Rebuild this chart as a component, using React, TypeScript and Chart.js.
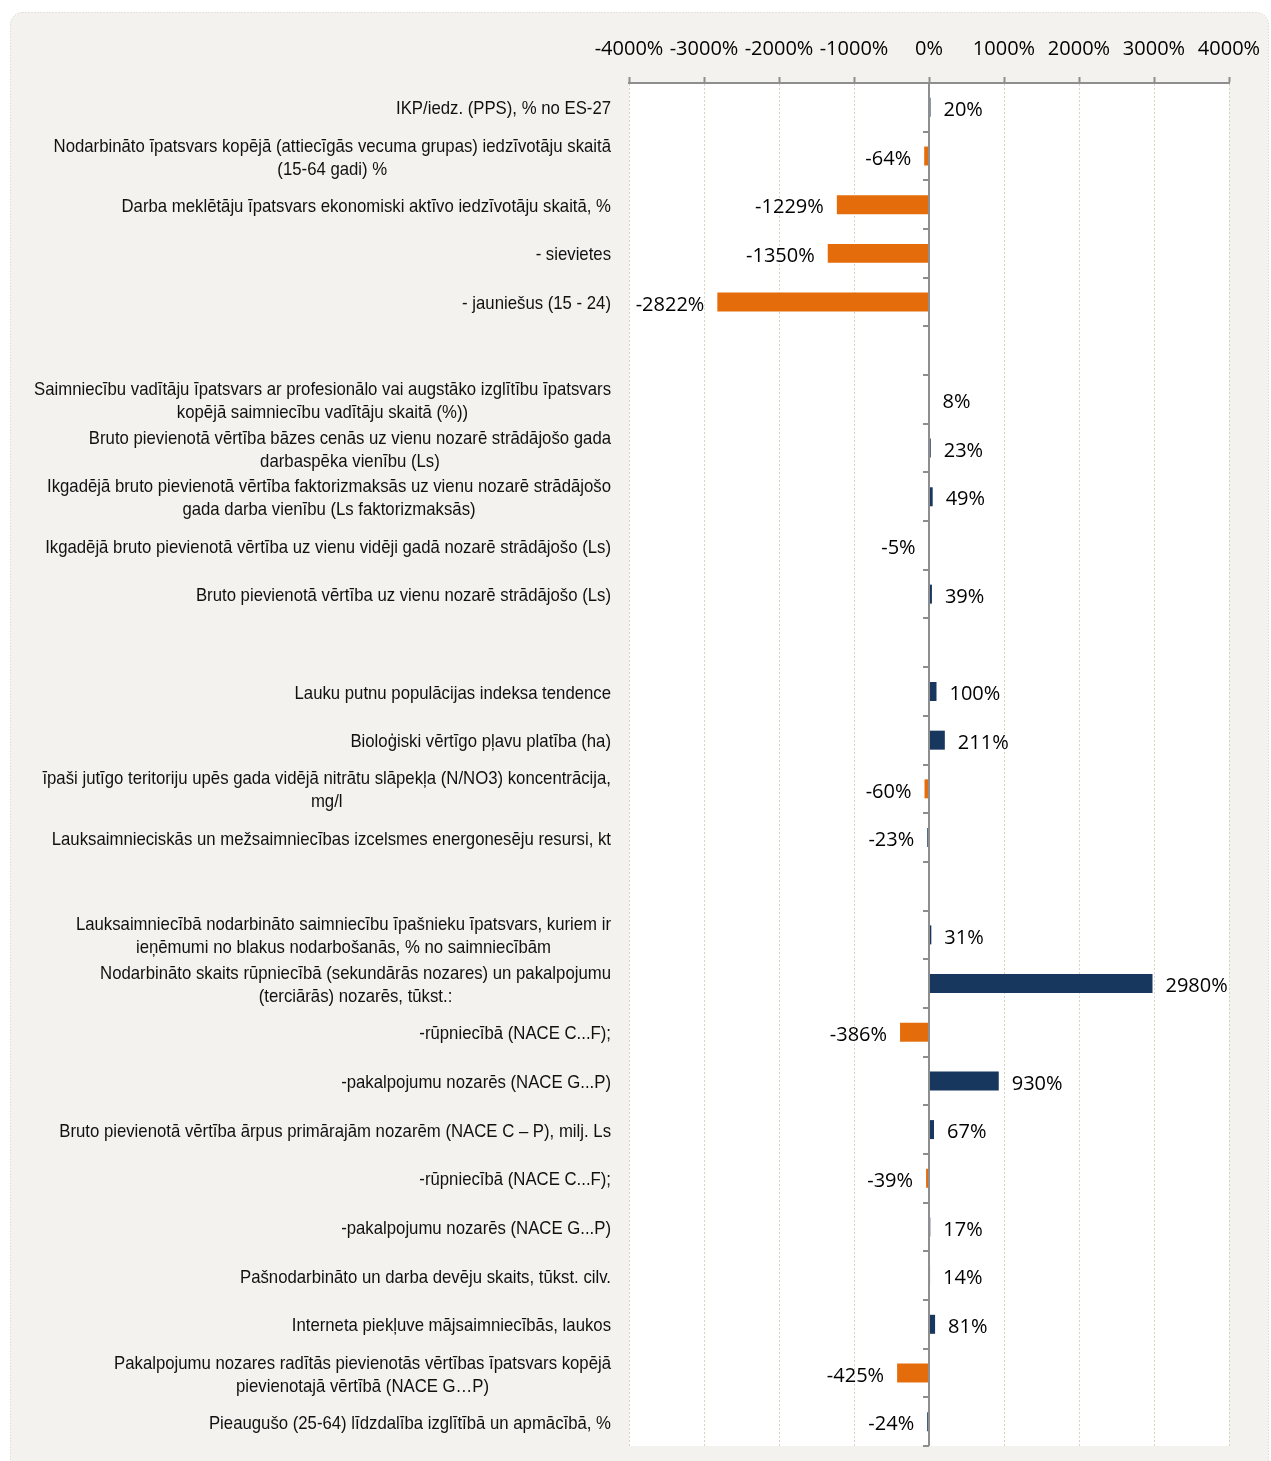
import React, { useEffect, useRef } from "react";
import { Chart, registerables } from "chart.js";

Chart.register(...registerables);

const categories: (string | string[])[] = [
  "IKP/iedz. (PPS), % no ES-27",
  ["Nodarbināto īpatsvars kopējā (attiecīgās vecuma grupas) iedzīvotāju skaitā", "(15-64 gadi) %"],
  "Darba meklētāju īpatsvars ekonomiski aktīvo iedzīvotāju skaitā, %",
  "- sievietes",
  "- jauniešus (15 - 24)",
  "",
  ["Saimniecību vadītāju īpatsvars ar profesionālo vai augstāko izglītību īpatsvars", "kopējā saimniecību vadītāju skaitā (%))"],
  ["Bruto pievienotā vērtība bāzes cenās uz vienu nozarē strādājošo gada", "darbaspēka vienību (Ls)"],
  ["Ikgadējā bruto pievienotā vērtība faktorizmaksās uz vienu nozarē strādājošo", "gada darba vienību (Ls faktorizmaksās)"],
  "Ikgadējā bruto pievienotā vērtība uz vienu vidēji gadā nozarē strādājošo (Ls)",
  "Bruto pievienotā vērtība uz vienu nozarē strādājošo (Ls)",
  "",
  "Lauku putnu populācijas indeksa tendence",
  "Bioloģiski vērtīgo pļavu platība (ha)",
  ["īpaši jutīgo teritoriju upēs gada vidējā nitrātu slāpekļa (N/NO3) koncentrācija,", "mg/l"],
  "Lauksaimnieciskās un mežsaimniecības izcelsmes energonesēju resursi, kt",
  "",
  ["Lauksaimniecībā nodarbināto saimniecību īpašnieku īpatsvars, kuriem ir", "ieņēmumi no blakus nodarbošanās, % no saimniecībām"],
  ["Nodarbināto skaits rūpniecībā (sekundārās nozares) un pakalpojumu", "(terciārās) nozarēs, tūkst.:"],
  "-rūpniecībā (NACE C...F);",
  "-pakalpojumu nozarēs (NACE G...P)",
  "Bruto pievienotā vērtība ārpus primārajām nozarēm (NACE C – P), milj. Ls",
  "-rūpniecībā (NACE C...F);",
  "-pakalpojumu nozarēs (NACE G...P)",
  "Pašnodarbināto un darba devēju skaits, tūkst. cilv.",
  "Interneta piekļuve mājsaimniecībās, laukos",
  ["Pakalpojumu nozares radītās pievienotās vērtības īpatsvars kopējā", "pievienotajā vērtībā (NACE G…P)"],
  "Pieaugušo (25-64) līdzdalība izglītībā un apmācībā, %",
];

const changeValues: (number | null)[] = [
  20, -64, -1229, -1350, -2822, null,
  8, 23, 49, -5, 39, null,
  100, 211, -60, -23, null,
  31, 2980, -386, 930, 67, -39, 17, 14, 81, -425, -24,
];

const axisMin = -4000;
const axisMax = 4000;
const axisStep = 1000;

const BLUE = "#17375E";
const ORANGE = "#E46C0A";
const LABEL_FONT = '18.5px "Liberation Sans", Arial, sans-serif';
const LABEL_SCALE = 0.905;
const VALUE_FONT = '20px "Open Sans", sans-serif';

const backgroundPlugin = {
  id: "bgPlugin",
  beforeDraw(chart: any) {
    const { ctx, chartArea } = chart;
    ctx.save();
    ctx.fillStyle = "#ffffff";
    ctx.fillRect(0, 0, chart.width, chart.height);
    const x = 10.5, y = 12.5, w = 1258, h = 1470, r = 12;
    ctx.beginPath();
    ctx.moveTo(x + r, y);
    ctx.lineTo(x + w - r, y);
    ctx.arcTo(x + w, y, x + w, y + r, r);
    ctx.lineTo(x + w, y + h - r);
    ctx.arcTo(x + w, y + h, x + w - r, y + h, r);
    ctx.lineTo(x + r, y + h);
    ctx.arcTo(x, y + h, x, y + h - r, r);
    ctx.lineTo(x, y + r);
    ctx.arcTo(x, y, x + r, y, r);
    ctx.closePath();
    ctx.fillStyle = "#f3f2ee";
    ctx.fill();
    ctx.setLineDash([1, 2]);
    ctx.strokeStyle = "#cfcdc3";
    ctx.lineWidth = 1;
    ctx.stroke();
    ctx.setLineDash([]);
    ctx.fillStyle = "#ffffff";
    ctx.fillRect(chartArea.left, chartArea.top, chartArea.right - chartArea.left, chartArea.bottom - chartArea.top);
    ctx.restore();
  },
};

const overlayPlugin = {
  id: "overlayPlugin",
  afterDatasetsDraw(chart: any) {
    const { ctx, chartArea, scales } = chart;
    const xs = scales.x;
    const ys = scales.y;
    const x0 = xs.getPixelForValue(0);
    ctx.save();
    // zero axis line
    ctx.strokeStyle = "#8e8e8e";
    ctx.lineWidth = 2;
    ctx.beginPath();
    ctx.moveTo(x0, chartArea.top);
    ctx.lineTo(x0, chartArea.bottom);
    ctx.stroke();
    // category tick marks
    const n = categories.length;
    for (let i = 1; i <= n; i++) {
      const yb = i < n ? (ys.getPixelForValue(i - 1) + ys.getPixelForValue(i)) / 2 : chartArea.bottom;
      ctx.beginPath();
      ctx.moveTo(x0 - 6, Math.round(yb));
      ctx.lineTo(x0, Math.round(yb));
      ctx.stroke();
    }
    // value labels
    const meta = chart.getDatasetMeta(0);
    ctx.font = VALUE_FONT;
    ctx.fillStyle = "#000000";
    ctx.textBaseline = "middle";
    meta.data.forEach((bar: any, i: number) => {
      const v = changeValues[i];
      if (v === null || v === undefined) return;
      const txt = v + "%";
      if (v >= 0) {
        ctx.textAlign = "left";
        ctx.fillText(txt, bar.x + 13, bar.y + 3);
      } else {
        ctx.textAlign = "right";
        ctx.fillText(txt, bar.x - 13, bar.y + 3);
      }
    });
    // category labels (block right-aligned, lines centered)
    ctx.font = LABEL_FONT;
    ctx.fillStyle = "#111111";
    ctx.textAlign = "center";
    const rightEdge = chartArea.left - 18;
    const lh = 23;
    categories.forEach((lab, i) => {
      const lines = Array.isArray(lab) ? lab : [lab];
      if (!lines.length || (lines.length === 1 && lines[0] === "")) return;
      const maxW = Math.max(...lines.map((l) => ctx.measureText(l).width)) * LABEL_SCALE;
      const cx = rightEdge - maxW / 2;
      const cy = ys.getPixelForValue(i) + 2;
      lines.forEach((l, j) => {
        ctx.save();
        ctx.scale(LABEL_SCALE, 1);
        ctx.fillText(l, cx / LABEL_SCALE, cy + (j - (lines.length - 1) / 2) * lh);
        ctx.restore();
      });
    });
    ctx.restore();
  },
};

export default function App() {
  const ref = useRef<HTMLCanvasElement | null>(null);
  useEffect(() => {
    if (!ref.current) return;
    const chart = new Chart(ref.current, {
      type: "bar",
      data: {
        labels: categories.map((_, i) => String(i)),
        datasets: [
          {
            data: changeValues as any,
            backgroundColor: changeValues.map((v) => (v !== null && v < -30 ? ORANGE : BLUE)),
            borderWidth: 0,
            barPercentage: 0.39,
            categoryPercentage: 1,
          },
        ],
      },
      options: {
        indexAxis: "y",
        animation: false,
        responsive: false,
        maintainAspectRatio: false,
        events: [],
        layout: { padding: { left: 629, right: 42, top: 0, bottom: 15 } },
        plugins: { legend: { display: false }, tooltip: { enabled: false }, title: { display: false } },
        scales: {
          x: {
            type: "linear",
            position: "top",
            min: axisMin,
            max: axisMax,
            afterFit(scale: any) {
              scale.height = 83;
              scale.paddingLeft = 0;
              scale.paddingRight = 0;
            },
            ticks: {
              stepSize: axisStep,
              callback: (v: any) => v + "%",
              font: { family: '"Open Sans", sans-serif', size: 20 },
              color: "#000000",
              padding: 16,
              maxRotation: 0,
              autoSkip: false,
            },
            grid: {
              color: "#d9d2bd",
              lineWidth: 1,
              tickColor: "#8e8e8e",
              tickLength: 6,
              tickWidth: 2,
            },
            border: { display: true, color: "#8e8e8e", width: 2, dash: [2, 2] },
          },
          y: {
            type: "category",
            offset: true,
            afterFit(scale: any) {
              scale.width = 0;
            },
            ticks: { display: false },
            grid: { display: false },
            border: { display: false },
          },
        },
      },
      plugins: [backgroundPlugin, overlayPlugin],
    });
    return () => chart.destroy();
  }, []);
  return (
    <div style={{ position: "absolute", left: 0, top: 0, width: 1271, height: 1461 }}>
      <canvas ref={ref} width={1271} height={1461} style={{ display: "block", width: 1271, height: 1461 }} />
    </div>
  );
}
